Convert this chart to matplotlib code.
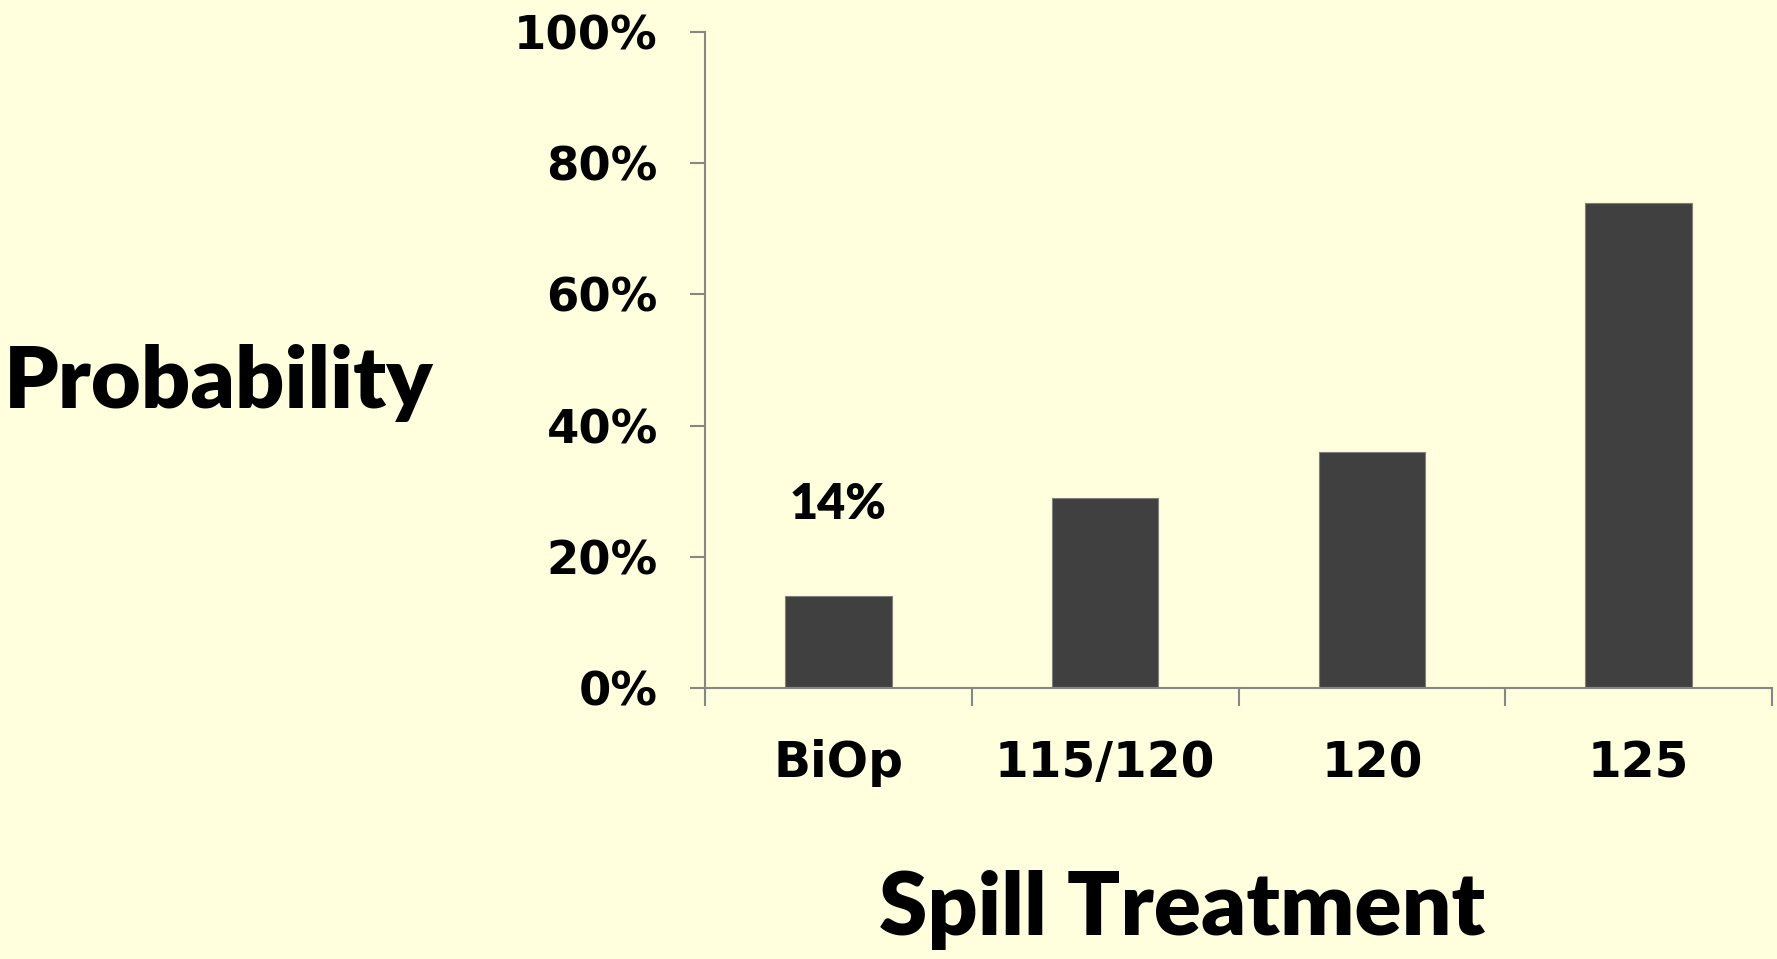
import numpy as np
import matplotlib
matplotlib.use("Agg")
import matplotlib.pyplot as plt
from matplotlib.ticker import FuncFormatter, FixedLocator

# data
categories = ["BiOp", "115/120", "120", "125"]
probability = [0.14, 0.29, 0.36, 0.74]
label_text = "14%"

BG = "#FFFFDD"
AXIS = "#868686"
BAR = "#404040"

fig = plt.figure(figsize=(17.77, 9.59), dpi=100, facecolor=BG)
ax = fig.add_axes([705/1777, 1-688/959, (1772-705)/1777, (688-32)/959])
ax.set_facecolor(BG)

x = np.arange(len(categories))
ax.bar(x, probability, width=0.4, color=BAR, edgecolor="#7f7f7f", linewidth=0.8, zorder=2)

ax.set_xlim(-0.5, len(categories) - 0.5)
ax.set_ylim(0, 1)

# y axis: percentage ticks
ax.set_yticks(np.arange(0, 1.01, 0.2))
ax.yaxis.set_major_formatter(FuncFormatter(lambda v, p: f"{v*100:.0f}%"))
ax.tick_params(axis="y", direction="out", length=11, width=1.5, color=AXIS, pad=23,
               labelsize=33.5)

# x axis: labels at centres, tick marks at the category boundaries
ax.set_xticks(x)
ax.set_xticklabels(categories)
ax.xaxis.set_minor_locator(FixedLocator(np.arange(-0.5, len(categories), 1.0)))
ax.tick_params(axis="x", which="major", length=0, pad=37, labelsize=35)
ax.tick_params(axis="x", which="minor", direction="out", length=13, width=1.5, color=AXIS)

for lbl in ax.get_xticklabels() + ax.get_yticklabels():
    lbl.set_fontweight("bold")
    lbl.set_fontfamily("DejaVu Sans")

for side in ["top", "right"]:
    ax.spines[side].set_visible(False)
for side in ["left", "bottom"]:
    ax.spines[side].set_color(AXIS)
    ax.spines[side].set_linewidth(1.5)

# single data label above the first bar
ax.text(x[0], probability[0] + 0.14, label_text, ha="center", va="center",
        fontsize=35, fontweight="heavy", family="Lato")

fig.text(219/1777, 1-408/959, "Probability", ha="center", va="baseline",
         fontsize=62, fontweight="heavy", family="Lato")
fig.text(1182/1777, 1-935/959, "Spill Treatment", ha="center", va="baseline",
         fontsize=63, fontweight="heavy", family="Lato")

fig.savefig("out.png", dpi=100, facecolor=BG)
